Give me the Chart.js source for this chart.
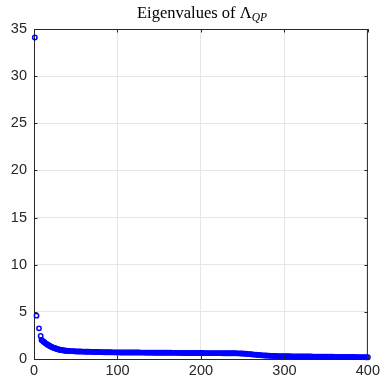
<!DOCTYPE html>
<html>
<head>
<meta charset="utf-8">
<script src="https://cdn.jsdelivr.net/npm/chart.js@4/dist/chart.umd.min.js"></script>
<style>
  html, body { margin: 0; padding: 0; background: #fff; }
  #wrap { position: relative; width: 383px; height: 382px; }
  #title { position: absolute; left: 34px; width: 336px; top: 3px; text-align: center;
           font-family: "Liberation Serif", "DejaVu Serif", serif; font-size: 16.5px; color: #000; white-space: nowrap; }
  #title sub { font-size: 11.5px; font-style: italic; vertical-align: -3px; }
</style>
</head>
<body>
<div id="wrap">
  <canvas id="c" width="383" height="382"></canvas>
  <div id="title">Eigenvalues of Λ<sub>QP</sub></div>
</div>
<script>
// Eigenvalue index (x) and eigenvalue (y)
const eigIndex = [
  1, 3, 6, 8,
  9, 10, 11, 12, 13, 14, 15, 16, 17, 18, 19, 20, 21, 22, 23, 24, 25, 26, 27, 28, 29, 30, 31, 32, 33, 34, 35, 36, 37, 38, 39, 40,
  42, 44, 46, 48, 50, 52, 54, 56, 58, 60, 62, 64, 66, 68, 70, 72, 74, 76, 78, 80, 82, 84, 86, 88, 90, 92, 94, 96, 98, 100,
  102, 104, 106, 108, 110, 112, 114, 116, 118, 120, 122, 124, 126, 128, 130, 132, 134, 136, 138, 140,
  142, 144, 146, 148, 150, 152, 154, 156, 158, 160, 162, 164, 166, 168, 170, 172, 174, 176, 178, 180,
  182, 184, 186, 188, 190, 192, 194, 196, 198, 200,
  202, 204, 206, 208, 210, 212, 214, 216, 218, 220, 222, 224, 226, 228, 230, 232, 234, 236, 238, 240, 242, 244, 246,
  248, 250, 252, 254, 256, 258, 260, 262, 264, 266, 268, 270, 272, 274, 276, 278, 280, 282, 284, 286, 288, 290, 292, 294, 296, 298, 300,
  302, 304, 306, 308, 310, 312, 314, 316, 318, 320, 322, 324, 326, 328, 330, 332, 334, 336, 338, 340,
  342, 344, 346, 348, 350, 352, 354, 356, 358, 360, 362, 364, 366, 368, 370, 372, 374, 376, 378, 380,
  382, 384, 386, 388, 390, 392, 394, 396, 398, 400
];
const eigValues = [
  34.1, 4.6, 3.25, 2.45,
  2.02, 1.95, 1.87, 1.80, 1.73, 1.66, 1.60, 1.54, 1.48, 1.43, 1.38, 1.33, 1.29, 1.25, 1.21, 1.17, 1.14, 1.11, 1.08, 1.05, 1.02, 1.00, 0.98, 0.96, 0.945, 0.93, 0.915, 0.90, 0.89, 0.88, 0.87, 0.86,
  0.85, 0.84, 0.83, 0.815, 0.805, 0.80, 0.795, 0.79, 0.785, 0.78, 0.775, 0.77, 0.765, 0.76, 0.755, 0.75, 0.745, 0.74, 0.735, 0.73, 0.725, 0.72, 0.717, 0.714, 0.711, 0.708, 0.705, 0.703, 0.701, 0.70,
  0.699, 0.697, 0.696, 0.694, 0.693, 0.692, 0.690, 0.689, 0.687, 0.686, 0.685, 0.683, 0.682, 0.680, 0.679, 0.678, 0.676, 0.675, 0.673, 0.672,
  0.671, 0.669, 0.668, 0.666, 0.665, 0.664, 0.662, 0.661, 0.659, 0.658, 0.657, 0.655, 0.654, 0.652, 0.651, 0.650, 0.648, 0.647, 0.645, 0.644,
  0.643, 0.641, 0.640, 0.638, 0.637, 0.636, 0.634, 0.633, 0.631, 0.630,
  0.629, 0.628, 0.627, 0.626, 0.625, 0.624, 0.623, 0.622, 0.621, 0.620, 0.619, 0.618, 0.617, 0.616, 0.615, 0.614, 0.613, 0.612, 0.610, 0.608, 0.605, 0.600, 0.594,
  0.586, 0.576, 0.564, 0.550, 0.535, 0.519, 0.502, 0.485, 0.468, 0.451, 0.434, 0.418, 0.403, 0.389, 0.376, 0.364, 0.353, 0.343, 0.334, 0.326, 0.319, 0.313, 0.308, 0.303, 0.299, 0.295, 0.291,
  0.288, 0.286, 0.284, 0.282, 0.280, 0.278, 0.276, 0.274, 0.272, 0.270, 0.268, 0.266, 0.264, 0.262, 0.260, 0.258, 0.256, 0.254, 0.252, 0.250,
  0.248, 0.246, 0.244, 0.242, 0.240, 0.238, 0.236, 0.234, 0.232, 0.230, 0.228, 0.226, 0.224, 0.222, 0.220, 0.218, 0.216, 0.214, 0.212, 0.210,
  0.208, 0.206, 0.204, 0.202, 0.200, 0.198, 0.196, 0.194, 0.192, 0.190
];
const xTicks = [0, 100, 200, 300, 400];
const yTicks = [0, 5, 10, 15, 20, 25, 30, 35];

const points = eigIndex.map((x, i) => ({ x: x, y: eigValues[i] }));

const axisColor = '#262626';
const boxPlugin = {
  id: 'boxTicks',
  afterDraw(chart) {
    const { ctx, chartArea: a, scales } = chart;
    ctx.save();
    ctx.strokeStyle = axisColor;
    ctx.lineWidth = 1;
    ctx.beginPath();
    ctx.moveTo(a.left, a.top + 0.5); ctx.lineTo(a.right, a.top + 0.5);
    ctx.moveTo(a.right - 0.5, a.top); ctx.lineTo(a.right - 0.5, a.bottom);
    const tl = 3.5;
    xTicks.forEach(v => {
      const px = Math.round(scales.x.getPixelForValue(v)) + 0.5;
      ctx.moveTo(px, a.bottom); ctx.lineTo(px, a.bottom - tl);
      ctx.moveTo(px, a.top); ctx.lineTo(px, a.top + tl);
    });
    yTicks.forEach(v => {
      const py = Math.round(scales.y.getPixelForValue(v)) + 0.5;
      ctx.moveTo(a.left, py); ctx.lineTo(a.left + tl, py);
      ctx.moveTo(a.right, py); ctx.lineTo(a.right - tl, py);
    });
    ctx.stroke();
    ctx.restore();
  }
};

new Chart(document.getElementById('c'), {
  type: 'scatter',
  data: {
    datasets: [{
      data: points,
      pointStyle: 'circle',
      pointRadius: 2.2,
      pointBorderWidth: 1.5,
      pointBorderColor: '#0000ff',
      pointBackgroundColor: 'rgba(0,0,0,0)',
      clip: false
    }]
  },
  options: {
    responsive: false,
    animation: false,
    events: [],
    layout: { padding: { top: 29, right: 13, left: 0, bottom: 0 } },
    plugins: { legend: { display: false }, title: { display: false }, tooltip: { enabled: false } },
    scales: {
      x: {
        type: 'linear', min: 0, max: 400,
        afterBuildTicks: s => { s.ticks = xTicks.map(v => ({ value: v })); },
        afterFit: s => { s.height = 23; },
        ticks: { color: axisColor, font: { family: 'Liberation Sans, Arial, sans-serif', size: 14.5 }, padding: 3, maxRotation: 0 },
        grid: { color: '#e6e6e6', drawTicks: false, lineWidth: 1 },
        border: { display: true, color: axisColor, width: 1 }
      },
      y: {
        type: 'linear', min: 0, max: 35,
        afterBuildTicks: s => { s.ticks = yTicks.map(v => ({ value: v })); },
        afterFit: s => { s.width = 34; },
        ticks: { color: axisColor, font: { family: 'Liberation Sans, Arial, sans-serif', size: 14.5 }, padding: 7 },
        grid: { color: '#e6e6e6', drawTicks: false, lineWidth: 1 },
        border: { display: true, color: axisColor, width: 1 }
      }
    }
  },
  plugins: [boxPlugin]
});
</script>
</body>
</html>
